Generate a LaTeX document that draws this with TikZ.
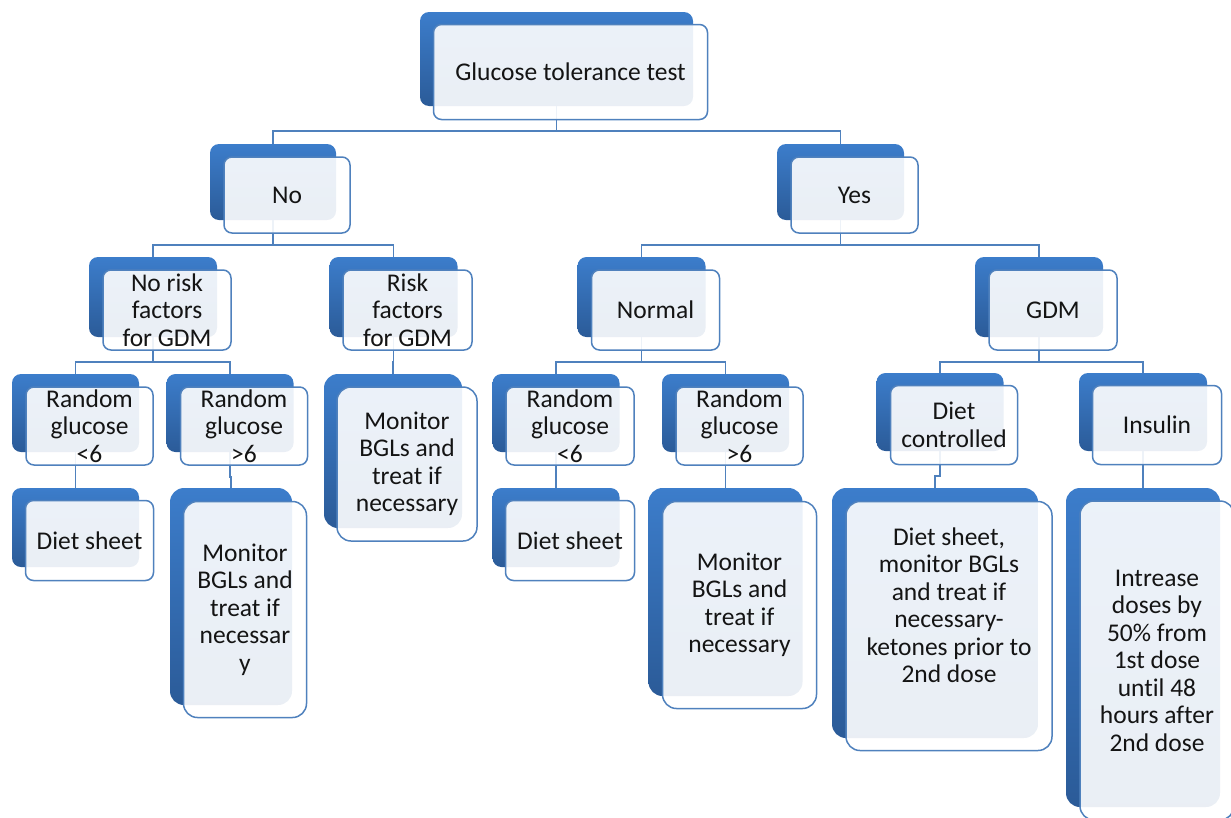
\documentclass[tikz,border=0pt]{standalone}
\usepackage{fontspec}
\setmainfont{Carlito}[Ligatures=NoCommon]

\begin{document}
\begin{tikzpicture}[x=1pt, y=-1pt,
    backbox/.style={rounded corners=9pt, top color=boxTop, bottom color=boxBottom,
        inner sep=0pt, outer sep=0pt},
    frontbox/.style={rounded corners=8pt, draw=lineColour, line width=1.5pt,
        fill=white, fill opacity=0.9, text opacity=1, text=textColour,
        align=center, inner sep=0pt, outer sep=0pt},
    tall/.style={rounded corners=14pt},
    link/.style={draw=lineColour, line width=1.8pt},
    font=\fontsize{25.5}{27.5}\selectfont]

    % Define colours
    \definecolor{boxTop}{HTML}{3C7DCB}
    \definecolor{boxBottom}{HTML}{2B5B98}
    \definecolor{lineColour}{HTML}{4F81BD}
    \definecolor{textColour}{HTML}{141414}

    % Define offset of the front boxes
    \def\dx{14}
    \def\dy{13}

    % Fix the page
    \useasboundingbox (0,0) rectangle (1231,817);

    % Draw the back boxes
    \foreach \nm/\x/\y/\w/\h in {glu/556.5/59/273/94, no/273/182/126/76, yes/840.5/182/127/76,
        nrf/153/297/128/80, rf/393.5/297/128/80, nor/641.5/297/128/80, gdm/1039/297/128/80,
        rl1/75.5/413/127/78, rl2/230/413/127/78, rr1/556/413/127/78, rr2/725.5/413/127/78,
        dc/940/412/127/78, ins/1143/412/128/78, ds1/75.5/527.5/127/79, ds2/556/527.5/127/79}
        \node[backbox, minimum width=\w pt, minimum height=\h pt] (\nm) at (\x,\y) {};
    \foreach \nm/\x/\y/\w/\h in {mon1/393/451/138/154, mon2/231/596.5/122/217,
        mon3/725.5/592/154/208, dsg/935/613/206/250, inc/1143/647.5/154/319}
        \node[backbox, tall, minimum width=\w pt, minimum height=\h pt] (\nm) at (\x,\y) {};

    % Draw the connectors
    \foreach \a/\b in {glu/no, glu/yes, no/nrf, no/rf, yes/nor, yes/gdm, nrf/rl1, nrf/rl2,
        nor/rr1, nor/rr2, gdm/dc, gdm/ins, rf/mon1, rl1/ds1, rl2/mon2, rr1/ds2, rr2/mon3,
        dc/dsg, ins/inc}
        \draw[link] (\a.south) -- ++(0,25) -| (\b.north);

    % Draw the front boxes with their texts
    \foreach \nm/\w/\h/\txt in {glu/274/95/{Glucose tolerance test}, no/126/76/{No},
        yes/127/76/{Yes}, nrf/128/80/{No risk\\factors\\for GDM},
        rf/129/80/{Risk\\factors\\for GDM}, nor/128/80/{Normal}, gdm/128/80/{GDM},
        rl1/127/78/{Random\\glucose\\<6}, rl2/127/78/{Random\\glucose\\>6},
        rr1/128/78/{Random\\glucose\\<6}, rr2/127/78/{Random\\glucose\\>6},
        dc/127/79/{Diet\\controlled}, ins/129/79/{Insulin},
        ds1/128/80/{Diet sheet}, ds2/129/80/{Diet sheet}}
        \node[frontbox, minimum width=\w pt, minimum height=\h pt] (\nm-f)
            at ([shift={(\dx,\dy)}]\nm.center) {\txt};
    \foreach \nm/\w/\h/\txt in {mon1/140/154/{Monitor\\BGLs and\\treat if\\necessary},
        mon2/123/216/{Monitor\\BGLs and\\treat if\\necessar\\y},
        mon3/154/207/{Monitor\\BGLs and\\treat if\\necessary},
        dsg/206/249/{},
        inc/154/319/{Intrease\\doses by\\50\% from\\1st dose\\until 48\\hours after\\2nd dose}}
        \node[frontbox, tall, minimum width=\w pt, minimum height=\h pt] (\nm-f)
            at ([shift={(\dx,\dy)}]\nm.center) {\txt};

    % Text of the tall GDM box sits high
    \node[align=center, text=textColour] (dsg-t) at ([yshift=21pt]dsg-f.center)
        {Diet sheet,\\monitor BGLs\\and treat if\\necessary-\\ketones prior to\\2nd dose};

\end{tikzpicture}
\end{document}
